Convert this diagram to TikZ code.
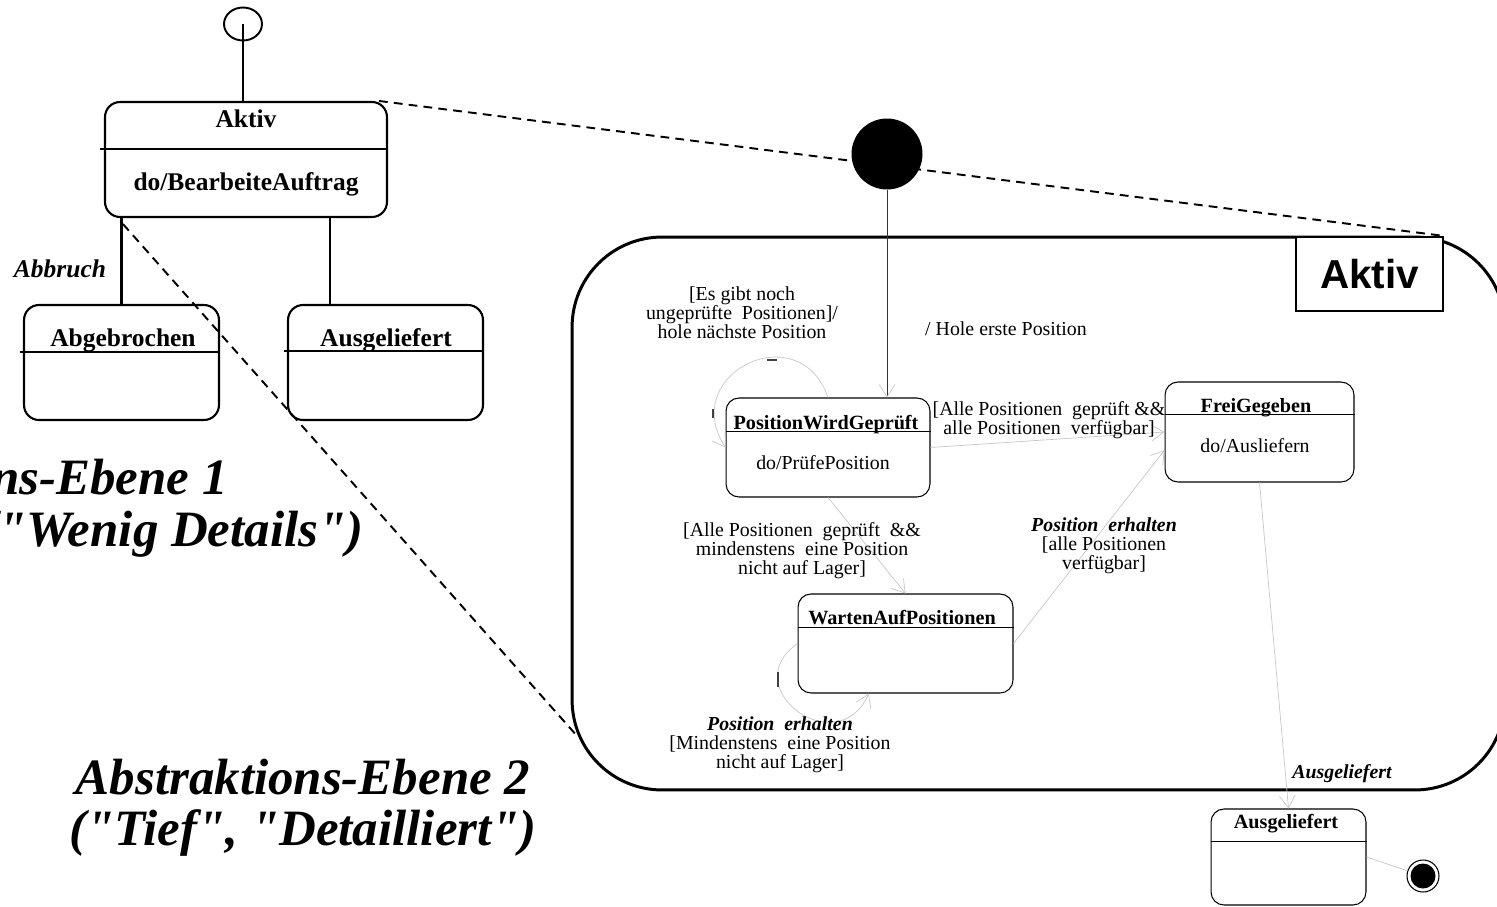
\documentclass[tikz,border=0pt]{standalone}
\usepackage{fontspec}
\setmainfont{Liberation Serif}
\newfontfamily\labelfont{Liberation Sans}
\newfontfamily\lvlfont{Liberation Serif}[Ligatures=TeXOff]
\usetikzlibrary{arrows.meta,calc,shapes.geometric}

\begin{document}
\begin{tikzpicture}[x=0.02cm, y=0.02cm,
  bigstate/.style={draw, rounded corners=0.3cm, line width=1.2pt, inner sep=0pt},
  state/.style={draw, rounded corners=0.26cm, line width=0.6pt, inner sep=0pt},
  bigtxt/.style={font=\fontsize{14.5}{17}\selectfont\bfseries, inner sep=0pt},
  bigit/.style={font=\fontsize{14.5}{17}\selectfont\bfseries\itshape, inner sep=0pt},
  smalltxt/.style={font=\fontsize{11.3}{10.8}\selectfont, align=center, inner sep=0pt},
  smallbf/.style={font=\fontsize{11.5}{10.8}\selectfont\bfseries, inner sep=0pt},
  smallit/.style={font=\fontsize{11.3}{10.8}\selectfont\bfseries\itshape, inner sep=0pt},
  lvltxt/.style={font=\lvlfont\fontsize{29}{30}\selectfont\bfseries\itshape, inner sep=0pt},
  trans/.style={draw=black!22, line width=0.4pt, -{Straight Barb[length=7pt,width=9pt]}},
  zoomline/.style={dash pattern=on 5pt off 3.5pt, line width=1.1pt},
  tick/.style={line width=0.8pt, black!75}]

\useasboundingbox (0,0) rectangle (1497,-906);
\clip (0,0) rectangle (1497,-906);

% Draw level 1 states
\node[draw, ellipse, line width=1.1pt, minimum width=0.76cm, minimum height=0.66cm, inner sep=0pt] (init1) at (243,-24) {};
\node[bigstate, minimum width=5.64cm, minimum height=2.3cm] (akt) at (246,-159.5) {};
\node[bigstate, minimum width=3.9cm, minimum height=2.3cm] (abg) at (121.5,-362.5) {};
\node[bigstate, minimum width=3.9cm, minimum height=2.3cm] (ausl) at (385.5,-362.5) {};

\draw[line width=1.2pt] ([xshift=-0.08cm,yshift=-0.96cm]akt.north west) -- ([yshift=-0.96cm]akt.north east);
\draw[line width=1.2pt] ([xshift=-0.06cm,yshift=-0.96cm]abg.north west) -- ([yshift=-0.96cm]abg.north east);
\draw[line width=1.2pt] ([xshift=-0.06cm,yshift=-0.94cm]ausl.north west) -- ([yshift=-0.94cm]ausl.north east);

\node[bigtxt, anchor=base] (akttitle) at (246,-127) {Aktiv};
\node[bigtxt, anchor=base] (aktdo) at (246,-190) {do/BearbeiteAuftrag};
\node[bigtxt, anchor=base] (abgtitle) at (123,-346) {Abgebrochen};
\node[bigtxt, anchor=base] (ausltitle) at (386,-346) {Ausgeliefert};

% Draw level 1 transitions
\draw[line width=1.2pt] (init1.center) -- (init1.center |- akt.north);
\draw[line width=1.2pt] (abg.north |- akt.south) -- (abg.north);
\draw[line width=1.2pt] ([xshift=1.68cm]akt.south) -- ([xshift=1.68cm]akt.south |- ausl.north);
\node[bigit, anchor=base] (abbruch) at (60,-277) {Abbruch};

% Level captions
\node[lvltxt, anchor=base east] (lvlonea) at (228,-494) {Abstraktions-Ebene 1};
\node[lvltxt, anchor=base east] (lvloneb) at (364,-546) {("Wenig Details")};
\node[lvltxt, anchor=base] (lvltwoa) at (303,-794) {Abstraktions-Ebene 2};
\node[lvltxt, anchor=base] (lvltwob) at (303,-845) {("Tief", "Detailliert")};

% Draw level 2 superstate
\node[draw, line width=1.7pt, rounded corners=1.8cm, minimum width=18.66cm, minimum height=11.06cm] (aktbig) at (1038.5,-513.5) {};
\node[draw, fill=white, line width=1.2pt, minimum width=2.94cm, minimum height=1.48cm, inner sep=0pt,
  font=\labelfont\bfseries\fontsize{23}{27}\selectfont] (aktlbl) at (1369.5,-274) {Aktiv};
\node[fill, circle, minimum size=1.42cm, inner sep=0pt] (init2) at (887,-154) {};

% Zoom lines
\coordinate (zoomend) at (578,-737);
\draw[zoomline] ([xshift=-0.18cm]akt.north east) -- (aktlbl.north east);
\draw[zoomline] ([xshift=0.38cm,yshift=-0.12cm]akt.south west) -- (zoomend);

% Draw level 2 states
\node[state, minimum width=4.08cm, minimum height=1.98cm] (pwg) at (828,-447.5) {};
\node[state, minimum width=3.78cm, minimum height=2.0cm] (fg) at (1259.5,-432) {};
\node[state, minimum width=4.3cm, minimum height=1.98cm] (wap) at (905.5,-643.5) {};
\node[state, minimum width=3.1cm, minimum height=1.92cm] (aus) at (1288.5,-857) {};
\node[draw, circle, line width=0.6pt, minimum size=0.64cm, inner sep=0pt] (final) at (1423,-876) {};
\fill (final) circle (0.25cm);

\draw[line width=0.6pt] ([yshift=-0.68cm]pwg.north west) -- ([yshift=-0.68cm]pwg.north east);
\draw[line width=0.6pt] ([yshift=-0.66cm]fg.north west) -- ([yshift=-0.66cm]fg.north east);
\draw[line width=0.6pt] ([yshift=-0.68cm]wap.north west) -- ([yshift=-0.68cm]wap.north east);
\draw[line width=0.6pt] ([yshift=-0.66cm]aus.north west) -- ([yshift=-0.66cm]aus.north east);

\node[smallbf, anchor=base] (pwgtitle) at (826,-429) {PositionWirdGeprüft};
\node[smalltxt, anchor=base] (pwgdo) at (823,-469) {do/PrüfePosition};
\node[smallbf, anchor=base] (fgtitle) at (1256,-412) {FreiGegeben};
\node[smalltxt, anchor=base] (fgdo) at (1255,-452) {do/Ausliefern};
\node[smallbf, anchor=base] (waptitle) at (902,-624) {WartenAufPositionen};
\node[smallbf, anchor=base] (austitle) at (1286,-828) {Ausgeliefert};

% Draw level 2 transitions
\draw[trans, draw=black!80, -{Straight Barb[length=7pt,width=9pt,color=black!22]}] (init2) -- (init2 |- pwg.north);
\draw[trans] (pwg.north) to[out=109, in=123, looseness=1.97] (pwg.west);
\draw[trans] (pwg.east) -- (fg.west);
\draw[trans] (pwg.south) -- (wap.north);
\draw[trans] (wap.east) -- ($(fg.west)!0.36!(fg.south west)$);
\draw[trans] (wap.west) to[out=215, in=246, looseness=2.26] ($(wap.south west)!0.33!(wap.south east)$);
\draw[trans] (fg.south) -- (aus.north);
\draw[trans, -] (aus.east) -- (final);

\draw[tick] (767,-360) -- (777,-360);
\draw[tick] (713,-409) -- (713,-418);
\draw[tick] (778,-672) -- (778,-687);

% Transition labels
\node[smalltxt] (loopl) at (742,-313) {[Es gibt noch\\ungeprüfte\ \ Positionen]/\\hole nächste Position};
\node[smalltxt, anchor=base] (initl) at (1006,-335) {/ Hole erste Position};
\node[smalltxt] (fgl) at (1049,-420) {[Alle Positionen\ \ geprüft \&\&\\alle Positionen\ \ verfügbar]};
\node[smalltxt] (wapl) at (802,-551) {[Alle Positionen\ \ geprüft\ \ \&\&\\mindenstens\ \ eine Position\\nicht auf Lager]};
\node[smalltxt] (wfl) at (1104,-546) {\textbf{\textit{Position\ \ erhalten}}\\{}[alle Positionen\\verfügbar]};
\node[smalltxt] (wloopl) at (780,-745) {\textbf{\textit{Position\ \ erhalten}}\\{}[Mindenstens\ \ eine Position\\nicht auf Lager]};
\node[smallit, anchor=base] (auslbl) at (1342,-778) {Ausgeliefert};

\end{tikzpicture}
\end{document}
